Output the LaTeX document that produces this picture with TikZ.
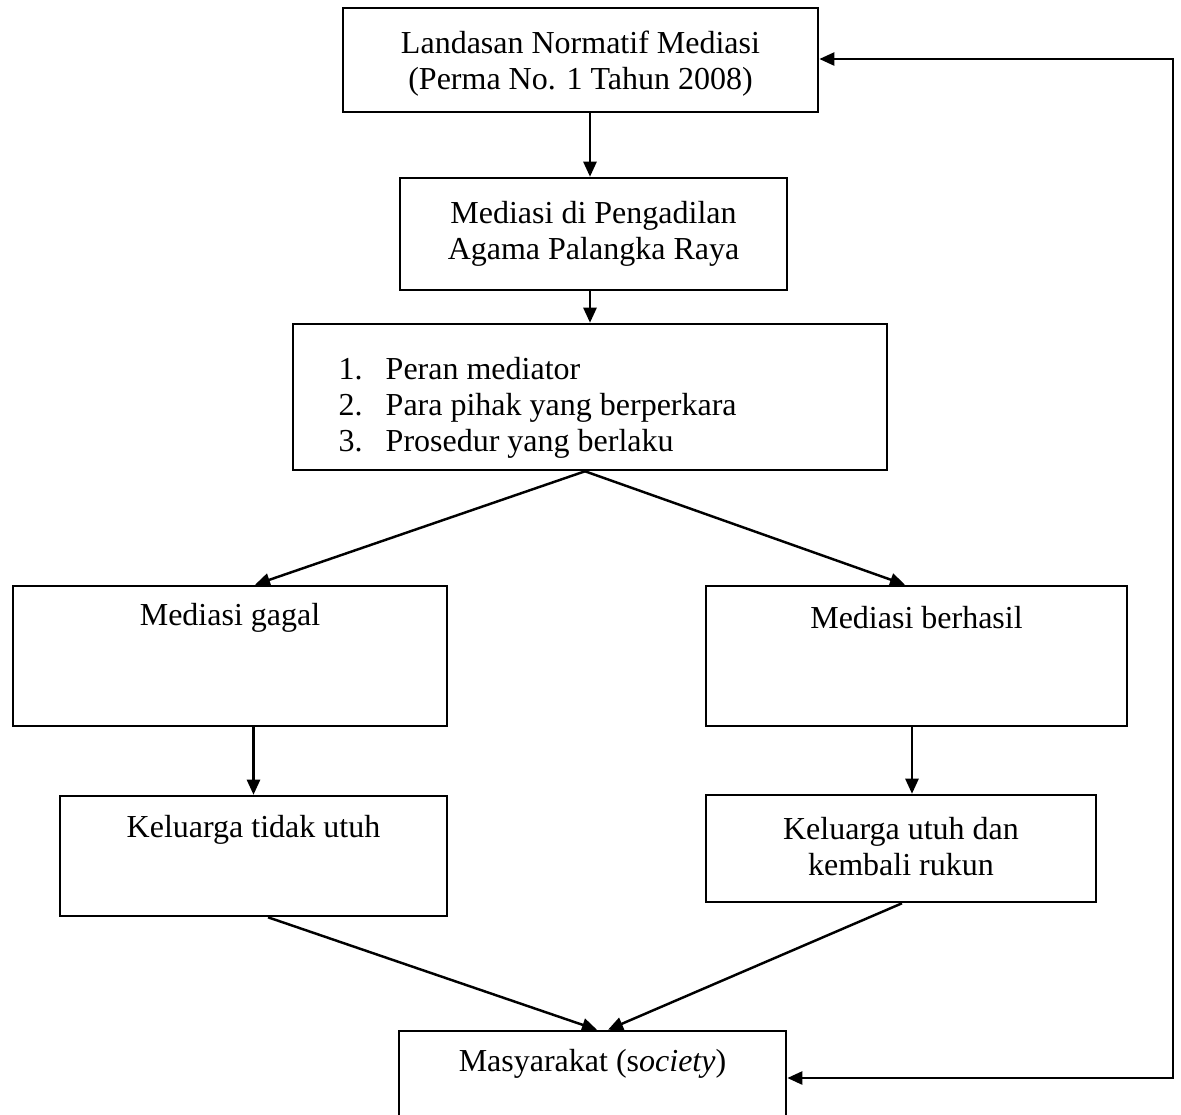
\documentclass[tikz,border=0pt]{standalone}
\usepackage{fontspec}
\setmainfont{Liberation Serif}
\usetikzlibrary{arrows.meta}
\begin{document}
\begin{tikzpicture}[x=0.01cm,y=-0.01cm,
  box/.style 2 args={draw, line width=0.7pt, fill=white, minimum width=#1, minimum height=#2, inner sep=0pt, align=center},
  txt/.style={inner sep=0pt, align=center},
  arr/.style={line width=0.7pt, -{Triangle[length=0.15cm,width=0.13cm]}},
  arrboth/.style={line width=0.7pt, {Triangle[length=0.15cm,width=0.13cm]}-{Triangle[length=0.15cm,width=0.13cm]}},
  every node/.style={font=\fontsize{9.1pt}{10.25pt}\selectfont}
]
\useasboundingbox (0,0) rectangle (1181,1114);

\node[box={4.75cm}{1.04cm}] (b1) at (580.5,60) {};
\node[txt] (t1) at ([yshift=-0.04cm]b1.center) {Landasan Normatif Mediasi\\(Perma No. 1 Tahun 2008)};
\node[box={3.87cm}{1.12cm}] (b2) at (593.5,234) {Mediasi di Pengadilan\\Agama Palangka Raya};
\node[box={5.94cm}{1.46cm}] (b3) at (590,397) {};
\node[txt, anchor=west, align=left] (l3) at (338,408) {\begin{tabular}{@{}p{0.47cm}@{}l@{}}1.&Peran mediator\\2.&Para pihak yang berperkara\\3.&Prosedur yang berlaku\end{tabular}};

\node[box={4.34cm}{1.40cm}] (b4) at (230,656) {};
\node[txt] (t4) at ([yshift=-0.33cm]b4.north) {Mediasi gagal};
\node[box={4.21cm}{1.40cm}] (b5) at (916.5,656) {};
\node[txt] (t5) at ([yshift=-0.33cm]b5.north) {Mediasi berhasil};

\node[box={3.87cm}{1.20cm}] (b6) at (253.5,856) {};
\node[txt] (t6) at ([yshift=-0.35cm]b6.north) {Keluarga tidak utuh};
\node[box={3.90cm}{1.07cm}] (b7) at (901,848.5) {};
\node[txt] (t7) at ([yshift=0.02cm]b7.center) {Keluarga utuh dan\\kembali rukun};

\node[box={3.87cm}{1.08cm}] (b8) at (592.5,1085) {};
\node[txt] (t8) at ([yshift=-0.34cm]b8.north) {Masyarakat (s\textit{ociety})};

\coordinate (fbR) at (1173,1078);
\coordinate (fbT) at (1173,59);

\draw[arr] (b1.south -| b3.north) -- (b2.north -| b3.north);
\draw[arr] (b2.south -| b3.north) -- (b3.north);
\draw[arr] ([xshift=-0.05cm]b3.south) -- ([xshift=0.25cm]b4.north);
\draw[arr] ([xshift=-0.05cm]b3.south) -- ([xshift=-0.115cm]b5.north);
\draw[arr] (b4.south -| b6.north) -- (b6.north);
\coordinate (c5) at ([xshift=-0.045cm]b5.south);
\draw[arr] (c5) -- (c5 |- b7.north);
\draw[arr] ([xshift=0.145cm]b6.south) -- ([xshift=0.045cm]b8.north);
\coordinate (c7) at ([xshift=0.01cm]b7.south);
\draw[arr] (c7) -- ([xshift=0.155cm]b8.north);
\draw[arrboth] (b8.east |- fbR) -- (fbR) -- (fbT) -- (b1.east |- fbT);
\end{tikzpicture}
\end{document}
